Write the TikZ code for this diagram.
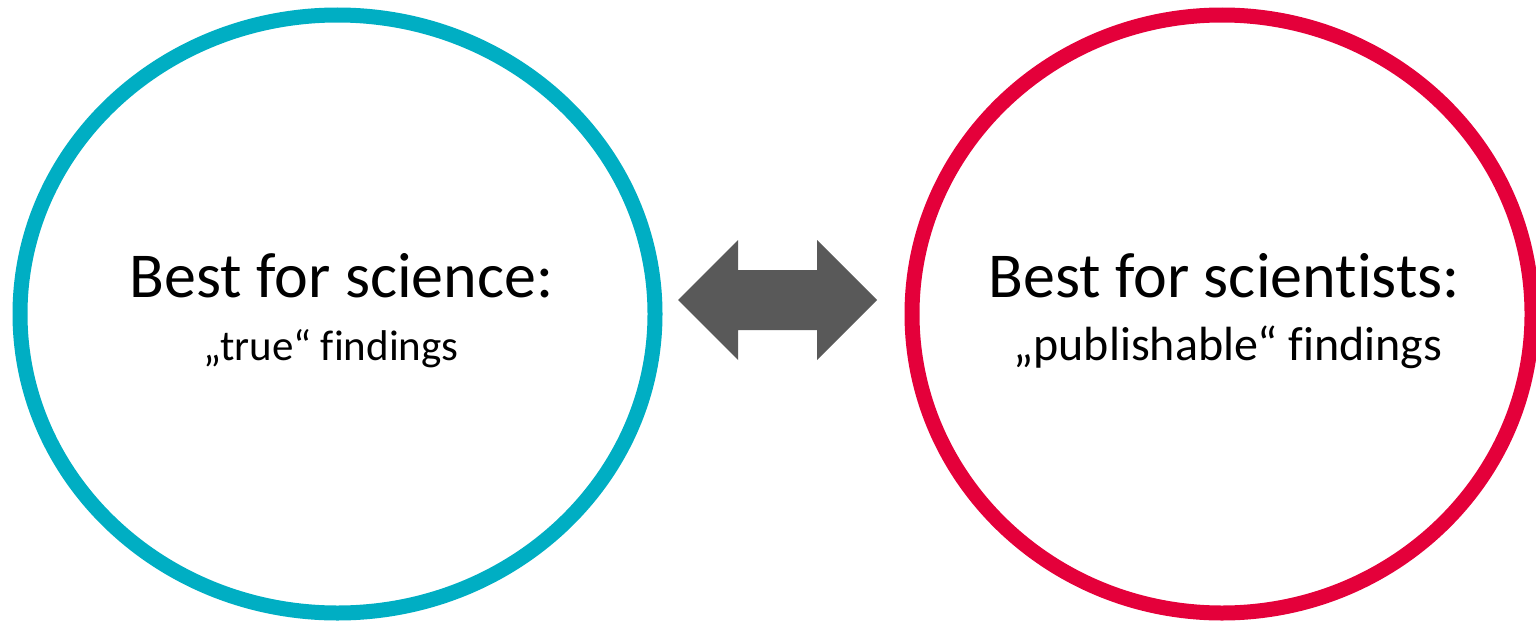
\documentclass[tikz,border=0pt]{standalone}
\usepackage{fontspec}
\setmainfont[Ligatures=NoCommon]{Carlito}
\usetikzlibrary{shapes.geometric}
\definecolor{sciblue}{HTML}{00AEC3}
\definecolor{scired}{HTML}{E4003A}
\definecolor{arrowgray}{HTML}{595959}
\begin{document}
\begin{tikzpicture}[x=1pt,y=-1pt,
  ring/.style={ellipse, draw, line width=15pt, inner sep=0pt, fill=none},
  headline/.style={anchor=base, inner sep=0pt, font=\fontsize{64}{76}\selectfont},
  subline/.style={anchor=base, inner sep=0pt, font=\fontsize{43}{52}\selectfont}]
  \useasboundingbox (0,0) rectangle (1536,621);
  % the two circles
  \node[ring, draw=sciblue, minimum width=635pt, minimum height=598pt] (science) at (337.5,314) {};
  \node[ring, draw=scired, minimum width=620pt, minimum height=598pt] (scientists) at (1222,314) {};
  % labels
  \node[headline] (sciTitle) at (341.5,297) {Best for science:};
  \node[subline]  (sciSub)   at (331,360) {„true“ findings};
  \node[headline] (stsTitle) at (1224,297) {Best for scientists:};
  \node[subline, font=\fontsize{48}{58}\selectfont] (stsSub) at (1228,360) {„publishable“ findings};
  % block double arrow between the circles
  \fill[arrowgray] (678,300) -- (738,240) -- (738,270) -- (817,270) -- (817,240)
    -- (877,300) -- (817,360) -- (817,330) -- (738,330) -- (738,360) -- cycle;
\end{tikzpicture}
\end{document}
